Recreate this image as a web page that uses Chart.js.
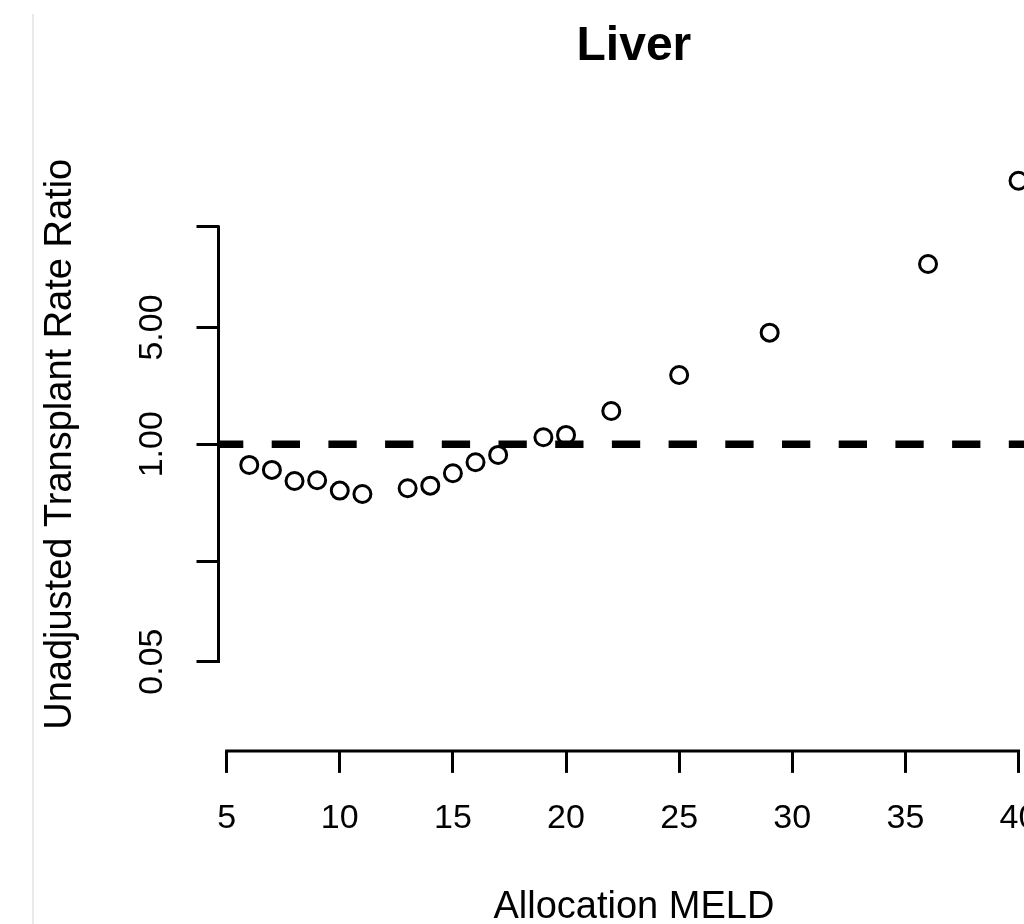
<!DOCTYPE html>
<html>
<head>
<meta charset="utf-8">
<script src="https://cdn.jsdelivr.net/npm/chart.js@4.4.1/dist/chart.umd.min.js"></script>
<style>
  html, body { margin: 0; padding: 0; background: #fff; overflow: hidden; }
  body { width: 1024px; height: 924px; position: relative; }
  #edge { position: absolute; left: 32px; top: 14px; width: 2px; height: 910px; background: #e9e9e9; }
  #wrap { position: absolute; left: 0; top: 0; width: 1100px; height: 960px; }
</style>
</head>
<body>
<div id="edge"></div>
<div id="wrap"><canvas id="chart" width="1100" height="960"></canvas></div>
<script>
const FONT = '"Liberation Sans", Arial, sans-serif';

// allocation MELD vs unadjusted transplant rate ratio
const MELD = [6, 7, 8, 9, 10, 11, 13, 14, 15, 16, 17, 19, 20, 22, 25, 29, 36, 40];
const RATIO = [0.752, 0.702, 0.603, 0.609, 0.528, 0.504, 0.545, 0.565, 0.671, 0.780,
  0.863, 1.101, 1.137, 1.582, 2.598, 4.655, 12.0, 37.8];

const X_TICKS = [5, 10, 15, 20, 25, 30, 35, 40];
const Y_TICKS = [0.05, 0.2, 1, 5, 20];
const Y_LABELS = ['0.05', '', '1.00', '5.00', ''];   // R drops the labels that would collide
const X_RANGE = [4.64, 41.36];
const Y_RANGE = [0.0146, 68.4];
const REF_RATIO = 1;

// R-style axes: the axis line only runs between the first and last tick
const rAxes = {
  id: 'rAxes',
  beforeDatasetsDraw(chart) {
    const { ctx, chartArea: a, scales: { y } } = chart;
    const py = y.getPixelForValue(REF_RATIO);
    ctx.save();
    ctx.beginPath(); ctx.rect(a.left, a.top, a.right - a.left, a.bottom - a.top); ctx.clip();
    ctx.strokeStyle = '#000'; ctx.lineWidth = 7.5;
    ctx.setLineDash([28.3, 28.4]); ctx.lineDashOffset = 3.5;
    ctx.beginPath(); ctx.moveTo(a.left, py); ctx.lineTo(a.right, py); ctx.stroke();
    ctx.restore();
  },
  afterDraw(chart) {
    const { ctx, chartArea: a, scales: { x, y } } = chart;
    ctx.save();
    ctx.strokeStyle = '#000'; ctx.lineWidth = 3; ctx.lineCap = 'square';
    ctx.beginPath();
    ctx.moveTo(a.left, y.getPixelForValue(Y_TICKS[0]));
    ctx.lineTo(a.left, y.getPixelForValue(Y_TICKS[Y_TICKS.length - 1]));
    ctx.moveTo(x.getPixelForValue(X_TICKS[0]), a.bottom);
    ctx.lineTo(x.getPixelForValue(X_TICKS[X_TICKS.length - 1]), a.bottom);
    ctx.stroke();
    // y tick labels run parallel to the axis
    ctx.fillStyle = '#000'; ctx.font = `34px ${FONT}`;
    ctx.textAlign = 'center'; ctx.textBaseline = 'middle';
    Y_TICKS.forEach((v, i) => {
      if (!Y_LABELS[i]) return;
      ctx.save();
      ctx.translate(152.5, y.getPixelForValue(v));
      ctx.rotate(-Math.PI / 2);
      ctx.fillText(Y_LABELS[i], 0, 0);
      ctx.restore();
    });
    ctx.restore();
  },
};

new Chart(document.getElementById('chart'), {
  type: 'scatter',
  data: {
    datasets: [{
      data: MELD.map((m, i) => ({ x: m, y: RATIO[i] })),
      pointStyle: 'circle', pointRadius: 8.5, pointBorderWidth: 3,
      pointBorderColor: '#000', pointBackgroundColor: 'rgba(0,0,0,0)',
    }],
  },
  options: {
    responsive: false, animation: false,
    layout: { padding: { left: 0, right: 50.7, top: 0, bottom: 0 } },
    plugins: {
      legend: { display: false }, tooltip: { enabled: false },
      title: {
        display: true, text: 'Liver', color: '#000', fullSize: false,
        font: { family: FONT, size: 48, weight: 'bold', lineHeight: 1.2 },
        padding: { top: 18.2, bottom: 61.9 },
      },
    },
    scales: {
      x: {
        type: 'linear', position: 'bottom', min: X_RANGE[0], max: X_RANGE[1],
        afterBuildTicks: s => { s.ticks = X_TICKS.map(v => ({ value: v })); },
        afterFit: s => { s.height = 209.1; },
        border: { display: false },
        grid: { drawOnChartArea: false, drawTicks: true, tickLength: 22, tickWidth: 3, lineWidth: 3, tickColor: '#000', color: '#000' },
        ticks: { color: '#000', padding: 25.1, autoSkip: false, maxRotation: 0, font: { family: FONT, size: 34 }, callback: v => String(v) },
        title: {
          display: true, text: 'Allocation MELD', color: '#000',
          font: { family: FONT, size: 38, lineHeight: 1.2 }, padding: { top: 0, bottom: 29.2 },
        },
      },
      y: {
        type: 'logarithmic', position: 'left', min: Y_RANGE[0], max: Y_RANGE[1],
        afterBuildTicks: s => { s.ticks = Y_TICKS.map(v => ({ value: v })); },
        afterFit: s => { s.width = 218.5; },
        border: { display: false },
        grid: { drawOnChartArea: false, drawTicks: true, tickLength: 22, tickWidth: 3, lineWidth: 3, tickColor: '#000', color: '#000' },
        ticks: { display: false },
        title: {
          display: true, text: 'Unadjusted Transplant Rate Ratio', color: '#000',
          font: { family: FONT, size: 38, lineHeight: 1.2 }, padding: { top: 38.2, bottom: 0 },
        },
      },
    },
  },
  plugins: [rAxes],
});
</script>
</body>
</html>
